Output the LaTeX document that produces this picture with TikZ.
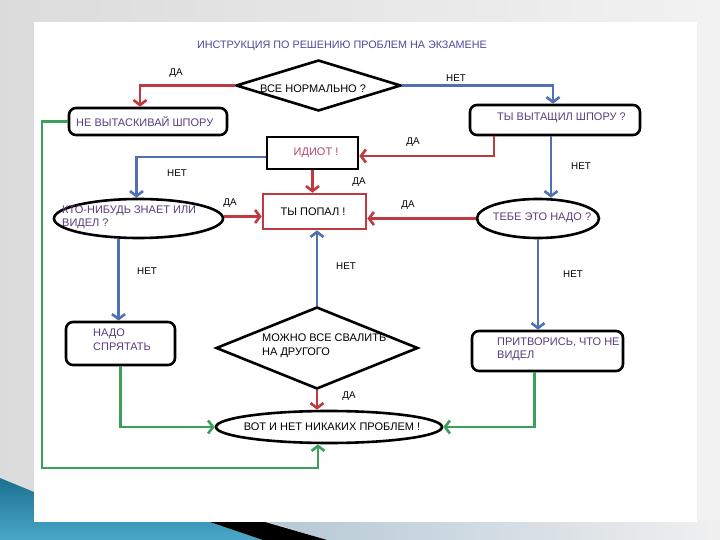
\documentclass[tikz,border=0pt]{standalone}
\usepackage{fontspec}
\setmainfont{Liberation Sans}
\usetikzlibrary{shapes.geometric,arrows.meta}
\definecolor{cred}{HTML}{BE3A3F}
\definecolor{cblue}{HTML}{5170B4}
\definecolor{cgreen}{HTML}{3DA05A}
\definecolor{ctxt}{HTML}{5A3C7E}
\definecolor{cidiot}{HTML}{B04A6A}
\definecolor{ctitle}{HTML}{4C4A9E}
\definecolor{sblue}{HTML}{1C7090}
\definecolor{sblue2}{HTML}{4AA8C8}
\definecolor{spale}{HTML}{B4C8D6}
\begin{document}
\begin{tikzpicture}[x=1pt,y=-1pt,
  font=\fontsize{11}{13.5}\selectfont,
  conn/.style={line width=2.6pt,-{Straight Barb[length=5pt,width=13pt]}},
  redc/.style={conn,draw=cred},
  bluec/.style={conn,draw=cblue},
  greenc/.style={conn,draw=cgreen},
  rbox/.style={draw,line width=2.6pt,rounded corners=7pt,inner sep=0pt},
  sbox/.style={draw,line width=2.6pt,inner sep=0pt},
  ell/.style={draw,ellipse,line width=2.6pt,inner sep=0pt},
  dia/.style={draw,diamond,line width=2.6pt,inner sep=0pt},
  lbl/.style={font=\fontsize{9.8}{11}\selectfont,inner sep=0pt},
  txt/.style={text=ctxt,align=left,inner sep=0pt}
]
\useasboundingbox (0,0) rectangle (720,540);
% slide background
\shade[left color=gray!28, right color=gray!10] (0,0) rectangle (720,540);
\shade[left color=spale, right color=gray!12] (262,520) -- (720,520) -- (720,540) -- (327,540) -- cycle;
\shade[top color=sblue, bottom color=sblue2] (0,478) -- (34,492) -- (34,522) -- (210,522) -- (263,540) -- (0,540) -- cycle;
\fill[black] (210,522) -- (265,522) -- (327,540) -- (263,540) -- cycle;
\fill[white] (34,22) rectangle (697,522);

% title
\node[text=ctitle,font=\fontsize{10.8}{13}\selectfont] (title) at (342,46) {ИНСТРУКЦИЯ ПО РЕШЕНИЮ ПРОБЛЕМ НА ЭКЗАМЕНЕ};

% shapes
\node[dia,minimum width=165pt,minimum height=51pt] (d1) at (318.5,85.5) {};
\node[rbox,minimum width=158pt,minimum height=27pt] (b1) at (148,121.5) {};
\node[rbox,minimum width=170pt,minimum height=30pt] (b2) at (555,120) {};
\node[sbox,minimum width=91pt,minimum height=32pt] (idiot) at (312.5,153) {};
\node[sbox,draw=cred,minimum width=103pt,minimum height=35pt] (cbox) at (314.5,211.5) {};
\node[ell,minimum width=169pt,minimum height=39pt] (e1) at (138.5,218.5) {};
\node[ell,minimum width=122pt,minimum height=39pt] (e2) at (538,218.5) {};
\node[rbox,minimum width=109pt,minimum height=43pt] (b3) at (120.5,343.5) {};
\node[dia,minimum width=202pt,minimum height=82pt] (d2) at (317,348) {};
\node[rbox,minimum width=151pt,minimum height=40pt] (b4) at (547.5,351) {};
\node[ell,minimum width=226pt,minimum height=32pt] (e3) at (329,427) {};

% texts
\node[inner sep=0pt] (t1) at (313,89) {ВСЕ НОРМАЛЬНО ?};
\node[txt,anchor=west] (tb1) at (76,122) {НЕ ВЫТАСКИВАЙ ШПОРУ};
\node[txt,anchor=west] (tb2) at (497,118) {ТЫ ВЫТАЩИЛ ШПОРУ ?};
\node[inner sep=0pt,text=cidiot] (ti) at (316,153) {ИДИОТ !};
\node[inner sep=0pt] (tc) at (313,212) {ТЫ ПОПАЛ !};
\node[txt,anchor=west] (te1) at (62,217.5) {КТО-НИБУДЬ ЗНАЕТ ИЛИ\\ВИДЕЛ ?};
\node[txt] (te2) at (542,218) {ТЕБЕ ЭТО НАДО ?};
\node[txt,anchor=west] (tb3) at (93,339.5) {НАДО\\СПРЯТАТЬ};
\node[txt,anchor=west,text=black] (td2) at (262,346) {МОЖНО ВСЕ СВАЛИТЬ\\НА ДРУГОГО};
\node[txt,anchor=west] (tb4) at (497,349.5) {ПРИТВОРИСЬ, ЧТО НЕ\\ВИДЕЛ};
\node[inner sep=0pt] (te3) at (332,427) {ВОТ И НЕТ НИКАКИХ ПРОБЛЕМ !};

% labels
\node[lbl] (l1) at (176,73) {ДА};
\node[lbl] (l2) at (456,78) {НЕТ};
\node[lbl] (l3) at (413,142) {ДА};
\node[lbl] (l4) at (177,173) {НЕТ};
\node[lbl] (l5) at (359,182) {ДА};
\node[lbl] (l6) at (230,203) {ДА};
\node[lbl] (l7) at (408,205) {ДА};
\node[lbl] (l8) at (581,166) {НЕТ};
\node[lbl] (l9) at (147,271) {НЕТ};
\node[lbl] (l10) at (346,266) {НЕТ};
\node[lbl] (l11) at (573,274) {НЕТ};
\node[lbl] (l12) at (349,396) {ДА};

% connectors
\coordinate (b1top) at ([xshift=-8pt]b1.north);
\coordinate (b2top) at ([xshift=-2pt]b2.north);
\coordinate (b2bl) at ([xshift=-61pt]b2.south);
\coordinate (b2br) at ([xshift=-4pt]b2.south);
\coordinate (e1top) at ([xshift=-2pt]e1.north);
\coordinate (b3top) at ([xshift=-2pt]b3.north);
\coordinate (b4bot) at ([xshift=-13pt]b4.south);
\coordinate (e3bot) at ([xshift=-11pt]e3.south);
\coordinate (g1) at (42,468);

\draw[redc] (d1.west) -| (b1top);
\draw[bluec] (d1.east) -| (b2top);
\draw[redc] (b2bl) |- ([yshift=-3pt]idiot.east);
\draw[bluec] ([yshift=-4pt]idiot.west) -| (e1top);
\draw[redc] (idiot.south) -- (idiot.south |- cbox.north);
\draw[redc] ([yshift=2pt]e1.east) -- ([yshift=2pt]e1.east -| cbox.west);
\draw[bluec] (b2br) -- (b2br |- e2.north);
\draw[redc] (e2.west) -- (e2.west -| cbox.east);
\draw[bluec] (b3top |- e1.south) -- (b3top);
\draw[bluec] (d2.north) -- (d2.north |- cbox.south);
\draw[bluec] (e2.south) -- (e2.south |- b4.north);
\draw[redc] (d2.south) -- (d2.south |- e3.north);
\draw[greenc] (b3.south) |- (e3.west);
\draw[greenc] (b4bot) |- (e3.east);
\draw[greenc] (b1.west) -| (g1) -| (e3bot);
\end{tikzpicture}
\end{document}
